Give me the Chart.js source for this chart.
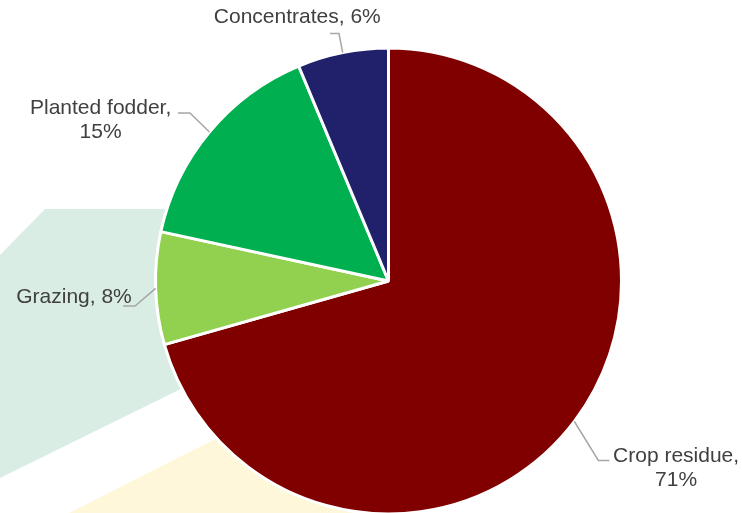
<!DOCTYPE html>
<html>
<head>
<meta charset="utf-8">
<script src="https://cdn.jsdelivr.net/npm/chart.js@4.4.0/dist/chart.umd.min.js"></script>
<style>
  html, body { margin: 0; padding: 0; background: #ffffff; }
  #box { width: 742px; height: 513px; position: relative; }
</style>
</head>
<body>
<div id="box"><canvas id="graph"></canvas></div>
<script>
// donnees (parts en %)
var categories = ['Crop residue', 'Grazing', 'Planted fodder', 'Concentrates'];
var valeurs = [70.6, 7.8, 15.3, 6.3];
var couleurs = ['#800000', '#92D050', '#00B050', '#21216B'];

// position des etiquettes par rapport au milieu de l'arc (coude, fin du trait, ligne de base du texte)
var etiquettes = [
    { coude: [24, 39], fin: [35, 39], texte: [101.7, 41], lignes: 2 },
    { coude: [-20.6, 17.7], fin: [-32.6, 17.7], texte: [-81.6, 14.4], lignes: 1 },
    { coude: [-19.5, -18.9], fin: [-31.5, -18.9], texte: [-108.8, -17.6], lignes: 2 },
    { coude: [-3.7, -19], fin: [-12.7, -19], texte: [-45.4, -29.8], lignes: 1 }
];

// formes decoratives du fond
var formesFond = [
    { couleur: '#DAEDE4', points: [[45, 209], [260, 209], [260, 350], [0, 478], [0, 255]] },
    { couleur: '#FFF7D9', points: [[67, 514], [300, 396], [389, 396], [389, 514]] }
];

var fondPlugin = {
    id: 'fond',
    beforeDraw: function(chart) {
        var ctx = chart.ctx;
        ctx.save();
        formesFond.forEach(function(f) {
            ctx.beginPath();
            f.points.forEach(function(p, i) {
                if (i == 0) ctx.moveTo(p[0], p[1]);
                else ctx.lineTo(p[0], p[1]);
            });
            ctx.closePath();
            ctx.fillStyle = f.couleur;
            ctx.fill();
        });
        ctx.restore();
    }
};

var etiquettesPlugin = {
    id: 'etiquettes',
    afterDatasetsDraw: function(chart) {
        var ctx = chart.ctx;
        var arcs = chart.getDatasetMeta(0).data;
        var total = valeurs.reduce(function(a, b) { return a + b; }, 0);
        ctx.save();
        ctx.font = '21px "Liberation Sans", Arial, sans-serif';
        ctx.fillStyle = '#404040';
        ctx.textAlign = 'center';
        ctx.textBaseline = 'alphabetic';
        for (var i = 0; i < arcs.length; i++) {
            var a = arcs[i];
            var milieu = (a.startAngle + a.endAngle) / 2;
            var px = a.x + Math.cos(milieu) * a.outerRadius;
            var py = a.y + Math.sin(milieu) * a.outerRadius;
            var e = etiquettes[i];
            ctx.beginPath();
            ctx.moveTo(px, py);
            ctx.lineTo(px + e.coude[0], py + e.coude[1]);
            ctx.lineTo(px + e.fin[0], py + e.fin[1]);
            ctx.strokeStyle = '#A6A6A6';
            ctx.lineWidth = 1.5;
            ctx.stroke();
            var pct = Math.round(valeurs[i] / total * 100) + '%';
            var tx = px + e.texte[0];
            var ty = py + e.texte[1];
            if (e.lignes == 2) {
                ctx.fillText(categories[i] + ',', tx, ty);
                ctx.fillText(pct, tx, ty + 24);
            } else {
                ctx.fillText(categories[i] + ', ' + pct, tx, ty);
            }
        }
        ctx.restore();
    }
};

var ctx = document.getElementById('graph').getContext('2d');
var monGraphique = new Chart(ctx, {
    type: 'pie',
    data: {
        labels: categories,
        datasets: [{
            data: valeurs,
            backgroundColor: couleurs,
            borderColor: '#ffffff',
            borderWidth: 3,
            radius: 233
        }]
    },
    options: {
        responsive: true,
        maintainAspectRatio: false,
        animation: false,
        layout: { padding: { top: 49, bottom: 0, left: 35, right: 0 } },
        plugins: {
            legend: { display: false },
            tooltip: { enabled: false }
        }
    },
    plugins: [fondPlugin, etiquettesPlugin]
});
</script>
</body>
</html>
